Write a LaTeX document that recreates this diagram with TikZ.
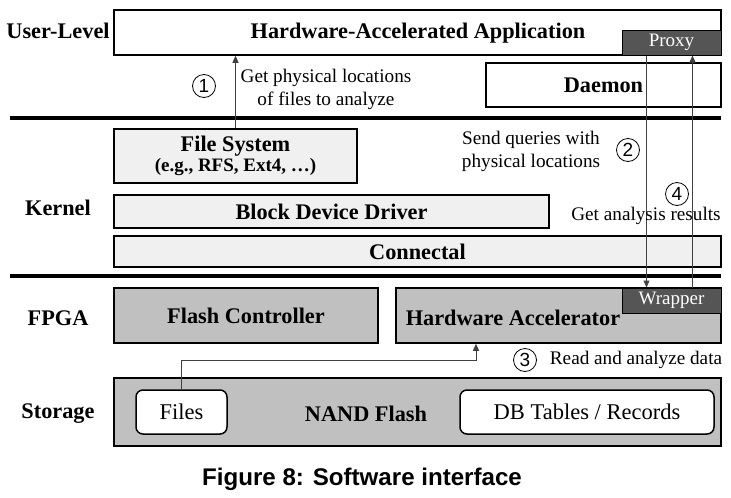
\documentclass[tikz,border=0pt]{standalone}
\usepackage{fontspec}
\setmainfont{Liberation Serif}
\setsansfont{Liberation Sans}
\usetikzlibrary{calc,arrows.meta}
\definecolor{lightbox}{HTML}{F0F0F0}
\definecolor{midbox}{HTML}{C0C0C0}
\definecolor{darkbox}{HTML}{555555}
\definecolor{linegray}{HTML}{404040}
\begin{document}
\begin{tikzpicture}[x=1pt,y=-1pt,
  box/.style={draw=black,line width=1.5pt,inner sep=0pt},
  tag/.style={draw=black,line width=1pt,fill=darkbox,text=white,inner sep=0pt,font=\fontsize{19}{21}\selectfont},
  rbox/.style={draw=black,line width=1.5pt,fill=white,rounded corners=7pt,inner sep=0pt,font=\fontsize{22.5}{25}\selectfont},
  title/.style={font=\fontsize{22.3}{25}\selectfont\bfseries},
  note/.style={font=\fontsize{19.2}{23}\selectfont,align=center},
  layer/.style={font=\fontsize{22.3}{25}\selectfont\bfseries},
  sep/.style={line width=4pt},
  arr/.style={draw=linegray,line width=1pt,-{Triangle[length=7pt,width=6pt]}},
  num/.style={circle,draw=black,line width=0.8pt,minimum size=23pt,inner sep=0pt,font=\sffamily\fontsize{19}{19}\selectfont}
]
\useasboundingbox (0,0) rectangle (731,498);
% layer labels
\node[layer] (ul) at (58,31) {User-Level};
\node[layer] (kl) at (58,208) {Kernel};
\node[layer] (fl) at (58,318) {FPGA};
\node[layer] (sl) at (58,414) {Storage};
% separators
\coordinate (s1a) at (10,118); \coordinate (s1b) at (721,118);
\coordinate (s2a) at (10,276); \coordinate (s2b) at (721,276);
\draw[sep] (s1a) -- (s1b);
\draw[sep] (s2a) -- (s2b);
% user level
\node[box,minimum width=607pt,minimum height=45pt] (app) at (417.5,32.5) {};
\node[title] (apptxt) at (418,33) {Hardware-Accelerated Application};
\node[tag,minimum width=99pt,minimum height=25pt] (proxy) at (671.5,42.5) {Proxy};
\node[box,minimum width=235pt,minimum height=44pt,title] (daemon) at (603.5,85) {Daemon};
% kernel
\node[box,fill=lightbox,minimum width=243pt,minimum height=54pt,align=center] (fs) at (235.5,156)
  {{\fontsize{22.3}{25}\selectfont\bfseries File System}\\[1pt]{\fontsize{19}{21}\selectfont\bfseries (e.g., RFS, Ext4, \dots)}};
\node[box,fill=lightbox,minimum width=435pt,minimum height=33pt,title] (bdd) at (331.5,211.5) {Block Device Driver};
\node[box,fill=lightbox,minimum width=607pt,minimum height=31pt,title] (conn) at (417.5,251.5) {Connectal};
% fpga
\node[box,fill=midbox,minimum width=264pt,minimum height=55pt,title] (fc) at (246,315.5) {Flash Controller};
\node[box,fill=midbox,minimum width=325pt,minimum height=55pt] (ha) at (558.5,315.5) {};
\node[title] (hatxt) at (513,318) {Hardware Accelerator};
\node[tag,minimum width=99pt,minimum height=25pt] (wrap) at (671.5,300.5) {Wrapper};
% storage
\node[box,fill=midbox,minimum width=607pt,minimum height=68pt] (nand) at (417.5,412) {};
\node[title] (nandtxt) at (366,414) {NAND Flash};
\node[rbox,minimum width=91pt,minimum height=44pt] (files) at (181.5,412) {Files};
\node[rbox,minimum width=254pt,minimum height=44pt] (db) at (587,412) {DB Tables / Records};
% step 1
\draw[arr] (fs.north) -- (fs.north |- app.south);
\node[num] (n1) at (204,86) {1};
\node[note] (t1) at (326,89) {Get physical locations\\of files to analyze};
% step 2 and 4
\coordinate (p2) at ($(proxy.south west)+(25,0)$);
\coordinate (p4) at ($(proxy.south west)+(71,0)$);
\draw[arr] (p2) -- (p2 |- wrap.north);
\draw[arr] (p4 |- wrap.north) -- (p4);
\node[num] (n2) at (628,150) {2};
\node[note] (t2) at (531,151) {Send queries with\\physical locations};
\node[num] (n4) at (677,194) {4};
\node[note] (t4) at (646,216) {Get analysis results};
% step 3
\coordinate (bend) at (476,360);
\draw[arr] (files.north) -- (files.north |- bend) -- (bend) -- (bend |- ha.south);
\node[num] (n3) at (525,360) {3};
\node[note] (t3) at (636,360) {Read and analyze data};
% caption
\node[font=\sffamily\bfseries\fontsize{24.1}{27}\selectfont] (cap) at (362,479) {Figure 8: Software interface};
\end{tikzpicture}
\end{document}
